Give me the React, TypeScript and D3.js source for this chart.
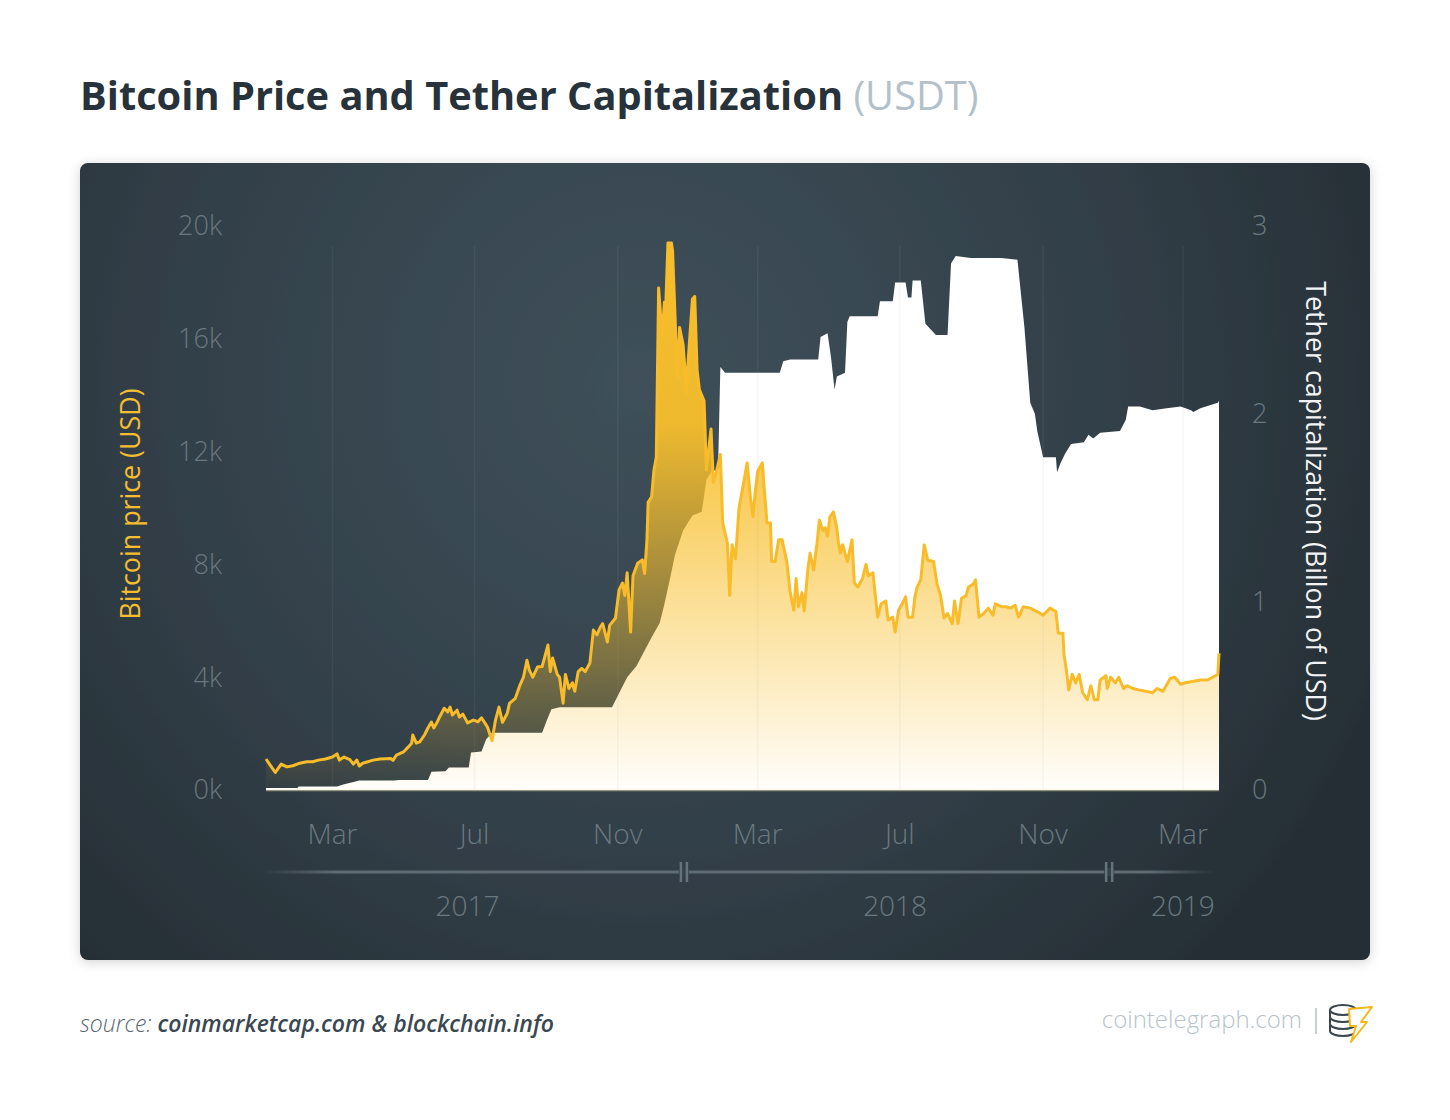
import React from "react";
import * as d3 from "d3";

// bitcoin price, thousands of USD
const btcDates = [
  "2017-01-03", "2017-01-06", "2017-01-11", "2017-01-16", "2017-01-21", "2017-01-26", "2017-02-01", "2017-02-07",
  "2017-02-12", "2017-02-17", "2017-02-23", "2017-03-01", "2017-03-05", "2017-03-07", "2017-03-11", "2017-03-16",
  "2017-03-19", "2017-03-22", "2017-03-24", "2017-03-27", "2017-04-05", "2017-04-11", "2017-04-20", "2017-04-22",
  "2017-04-25", "2017-05-01", "2017-05-05", "2017-05-08", "2017-05-09", "2017-05-12", "2017-05-15", "2017-05-19",
  "2017-05-22", "2017-05-25", "2017-05-27", "2017-05-30", "2017-06-01", "2017-06-05", "2017-06-08", "2017-06-10",
  "2017-06-12", "2017-06-16", "2017-06-18", "2017-06-21", "2017-06-25", "2017-06-30", "2017-07-04", "2017-07-07",
  "2017-07-12", "2017-07-16", "2017-07-19", "2017-07-22", "2017-07-25", "2017-07-29", "2017-07-31", "2017-08-05",
  "2017-08-09", "2017-08-12", "2017-08-15", "2017-08-17", "2017-08-20", "2017-08-24", "2017-08-28", "2017-08-30",
  "2017-09-02", "2017-09-04", "2017-09-06", "2017-09-10", "2017-09-12", "2017-09-15", "2017-09-17", "2017-09-20",
  "2017-09-23", "2017-09-25", "2017-09-28", "2017-10-01", "2017-10-04", "2017-10-08", "2017-10-11", "2017-10-14",
  "2017-10-17", "2017-10-19", "2017-10-23", "2017-10-25", "2017-10-30", "2017-11-02", "2017-11-05", "2017-11-07",
  "2017-11-09", "2017-11-12", "2017-11-14", "2017-11-18", "2017-11-22", "2017-11-24", "2017-11-26", "2017-11-27",
  "2017-11-30", "2017-12-02", "2017-12-04", "2017-12-06", "2017-12-09", "2017-12-11", "2017-12-12", "2017-12-14",
  "2017-12-17", "2017-12-18", "2017-12-20", "2017-12-22", "2017-12-24", "2017-12-27", "2017-12-30", "2017-12-31",
  "2018-01-04", "2018-01-06", "2018-01-08", "2018-01-10", "2018-01-12", "2018-01-14", "2018-01-16", "2018-01-17",
  "2018-01-20", "2018-01-22", "2018-01-25", "2018-01-28", "2018-01-30", "2018-02-03", "2018-02-05", "2018-02-07",
  "2018-02-10", "2018-02-13", "2018-02-17", "2018-02-20", "2018-02-23", "2018-02-25", "2018-02-27", "2018-03-01",
  "2018-03-05", "2018-03-07", "2018-03-09", "2018-03-12", "2018-03-13", "2018-03-16", "2018-03-19", "2018-03-22",
  "2018-03-26", "2018-03-29", "2018-04-01", "2018-04-03", "2018-04-05", "2018-04-08", "2018-04-10", "2018-04-13",
  "2018-04-15", "2018-04-18", "2018-04-21", "2018-04-23", "2018-04-26", "2018-04-28", "2018-04-30", "2018-05-02",
  "2018-05-05", "2018-05-08", "2018-05-09", "2018-05-11", "2018-05-13", "2018-05-17", "2018-05-21", "2018-05-23",
  "2018-05-26", "2018-05-30", "2018-06-02", "2018-06-04", "2018-06-08", "2018-06-10", "2018-06-12", "2018-06-15",
  "2018-06-19", "2018-06-21", "2018-06-25", "2018-06-27", "2018-06-30", "2018-07-03", "2018-07-06", "2018-07-08",
  "2018-07-12", "2018-07-14", "2018-07-16", "2018-07-19", "2018-07-22", "2018-07-25", "2018-07-30", "2018-08-02",
  "2018-08-05", "2018-08-08", "2018-08-11", "2018-08-15", "2018-08-17", "2018-08-20", "2018-08-23", "2018-08-27",
  "2018-08-29", "2018-09-02", "2018-09-04", "2018-09-07", "2018-09-11", "2018-09-15", "2018-09-19", "2018-09-21",
  "2018-09-26", "2018-09-30", "2018-10-04", "2018-10-08", "2018-10-11", "2018-10-15", "2018-10-21", "2018-10-28",
  "2018-11-01", "2018-11-07", "2018-11-12", "2018-11-14", "2018-11-18", "2018-11-19", "2018-11-21", "2018-11-23",
  "2018-11-26", "2018-11-29", "2018-12-02", "2018-12-05", "2018-12-09", "2018-12-12", "2018-12-15", "2018-12-18",
  "2018-12-20", "2018-12-25", "2018-12-26", "2018-12-29", "2019-01-02", "2019-01-05", "2019-01-09", "2019-01-12",
  "2019-01-17", "2019-01-22", "2019-01-28", "2019-02-03", "2019-02-07", "2019-02-12", "2019-02-18", "2019-02-22",
  "2019-02-27", "2019-03-03", "2019-03-09", "2019-03-16", "2019-03-22", "2019-03-29", "2019-03-31", "2019-04-01",
];
const btcPrice = [
  1.1, 0.92, 0.62, 0.92, 0.82, 0.86, 0.95, 1.0,
  1.0, 1.06, 1.1, 1.17, 1.28, 1.06, 1.17, 1.08,
  0.92, 1.06, 0.85, 0.95, 1.06, 1.1, 1.12, 1.05,
  1.24, 1.35, 1.52, 1.66, 1.95, 1.66, 1.71, 1.95,
  2.2, 2.41, 2.2, 2.41, 2.59, 2.9, 2.77, 2.94,
  2.66, 2.83, 2.59, 2.69, 2.38, 2.48, 2.42, 2.56,
  2.24, 1.75, 2.48, 2.94, 2.4, 2.71, 3.07, 3.25,
  3.72, 4.0, 4.6, 4.25, 4.0, 4.36, 4.38, 4.68,
  5.14, 4.2, 4.68, 4.1, 4.0, 3.08, 4.1, 3.6,
  3.8, 3.5, 4.2, 4.31, 4.2, 4.5, 5.67, 5.5,
  5.78, 5.9, 5.25, 5.84, 6.1, 7.09, 7.34, 6.9,
  7.7, 5.6, 7.6, 8.04, 8.16, 7.68, 8.87, 10.2,
  10.4, 11.35, 11.8, 17.8, 16.1, 17.3, 17.0, 19.4,
  19.4, 19.1, 16.9, 14.6, 16.4, 15.8, 14.1, 15.0,
  17.4, 17.5, 14.9, 14.2, 14.0, 13.8, 11.35, 11.7,
  12.8, 10.9, 11.35, 11.9, 9.47, 8.76, 6.9, 8.7,
  8.2, 10.0, 10.9, 11.6, 10.3, 9.7, 10.6, 11.3,
  11.6, 10.5, 9.47, 9.47, 8.1, 8.1, 8.87, 8.87,
  8.1, 7.0, 6.38, 7.5, 6.5, 7.0, 6.35, 7.8,
  8.4, 7.8, 8.76, 9.57, 9.2, 9.3, 9.0, 9.68,
  9.86, 9.3, 8.87, 8.4, 8.7, 8.1, 8.87, 7.34,
  7.2, 7.5, 8.0, 7.6, 7.7, 6.9, 6.13, 6.6,
  6.7, 6.03, 6.13, 5.6, 6.38, 6.6, 6.85, 6.13,
  6.13, 6.85, 7.2, 7.45, 8.69, 8.15, 8.1, 7.3,
  6.9, 6.1, 6.26, 5.9, 6.7, 5.9, 6.8, 6.9,
  7.2, 7.3, 7.45, 6.13, 6.26, 6.45, 6.2, 6.6,
  6.5, 6.5, 6.45, 6.55, 6.13, 6.5, 6.45, 6.3,
  6.2, 6.45, 6.33, 5.56, 5.56, 4.78, 4.25, 3.55,
  4.1, 3.8, 4.1, 3.45, 3.2, 3.7, 3.2, 3.2,
  3.9, 4.05, 3.6, 4.0, 3.8, 4.0, 3.6, 3.7,
  3.6, 3.55, 3.5, 3.45, 3.6, 3.5, 3.95, 4.0,
  3.75, 3.8, 3.85, 3.9, 3.9, 4.05, 4.1, 4.85,
];

// tether capitalization, billions of USD
const tetherDates = [
  "2017-01-03", "2017-01-30", "2017-01-31", "2017-03-05", "2017-03-11", "2017-03-20", "2017-03-24", "2017-04-23",
  "2017-04-27", "2017-05-22", "2017-05-25", "2017-06-06", "2017-06-09", "2017-06-26", "2017-06-28", "2017-07-07",
  "2017-07-11", "2017-07-16", "2017-08-28", "2017-09-01", "2017-09-05", "2017-09-12", "2017-10-27", "2017-10-31",
  "2017-11-09", "2017-11-17", "2017-11-29", "2017-12-07", "2017-12-11", "2017-12-16", "2017-12-20", "2017-12-27",
  "2018-01-04", "2018-01-12", "2018-01-16", "2018-01-21", "2018-01-26", "2018-01-28", "2018-02-01", "2018-03-20",
  "2018-03-23", "2018-03-29", "2018-04-22", "2018-04-24", "2018-04-30", "2018-05-03", "2018-05-06", "2018-05-08",
  "2018-05-15", "2018-05-17", "2018-05-19", "2018-06-12", "2018-06-14", "2018-06-25", "2018-06-27", "2018-07-06",
  "2018-07-08", "2018-07-11", "2018-07-12", "2018-07-19", "2018-07-23", "2018-08-01", "2018-08-11", "2018-08-14",
  "2018-08-18", "2018-08-31", "2018-09-26", "2018-10-10", "2018-10-12", "2018-10-16", "2018-10-19", "2018-10-21",
  "2018-10-25", "2018-10-27", "2018-11-01", "2018-11-12", "2018-11-13", "2018-11-16", "2018-11-20", "2018-11-25",
  "2018-12-06", "2018-12-10", "2018-12-14", "2018-12-20", "2019-01-06", "2019-01-11", "2019-01-13", "2019-01-23",
  "2019-02-03", "2019-02-15", "2019-02-27", "2019-03-08", "2019-03-10", "2019-03-16", "2019-03-31", "2019-04-01",
];
const tetherCap = [
  0.01, 0.01, 0.018, 0.018, 0.03, 0.044, 0.05, 0.05,
  0.053, 0.053, 0.097, 0.1, 0.12, 0.12, 0.2, 0.205,
  0.27, 0.305, 0.305, 0.37, 0.43, 0.44, 0.44, 0.49,
  0.6, 0.66, 0.8, 0.89, 0.99, 1.13, 1.25, 1.38,
  1.46, 1.48, 1.65, 1.7, 1.7, 2.25, 2.22, 2.22,
  2.28, 2.29, 2.29, 2.41, 2.43, 2.3, 2.13, 2.2,
  2.22, 2.49, 2.52, 2.52, 2.6, 2.6, 2.7, 2.7,
  2.62, 2.62, 2.71, 2.71, 2.48, 2.42, 2.42, 2.8,
  2.84, 2.83, 2.83, 2.82, 2.7, 2.46, 2.22, 2.06,
  2.0, 1.91, 1.77, 1.77, 1.69, 1.74, 1.79, 1.84,
  1.85, 1.89, 1.87, 1.9, 1.91, 1.97, 2.04, 2.04,
  2.02, 2.03, 2.04, 2.02, 2.01, 2.03, 2.06, 2.07,
];

const priceTicks = [0, 4, 8, 12, 16, 20];
const capTicks = [0, 1, 2, 3];
const yearLabels = ["2017", "2018", "2019"];
const yearLabelDates = ["2017-06-25", "2018-06-27", "2019-03-01"];
const yearBreaks = ["2018-01-01", "2019-01-01"];

const FONT = "'Open Sans', 'Noto Sans', sans-serif";
const parse = d3.timeParse("%Y-%m-%d");

const x = d3
  .scaleTime()
  .domain([parse("2017-01-03"), parse("2019-04-01")])
  .range([266, 1219]);
const yPrice = d3.scaleLinear().domain([0, 20]).range([790, 226]);
const yCap = d3.scaleLinear().domain([0, 3]).range([790, 226]);

const btc = btcDates.map((d, i) => ({ date: parse(d), v: btcPrice[i] }));
const tether = tetherDates.map((d, i) => ({ date: parse(d), v: tetherCap[i] }));

const btcArea = d3
  .area()
  .x((d) => x(d.date))
  .y0(yPrice(0))
  .y1((d) => yPrice(d.v));
const btcLine = d3
  .line()
  .x((d) => x(d.date))
  .y((d) => yPrice(d.v));
const tetherArea = d3
  .area()
  .x((d) => x(d.date))
  .y0(yCap(0))
  .y1((d) => yCap(d.v));

const monthTicks = d3.timeMonth
  .range(x.domain()[0], x.domain()[1])
  .filter((m) => m.getMonth() % 4 === 2);
const fmtMonth = d3.timeFormat("%b");

const App = () => {
  const [x0, x1] = x.range();
  const tickColor = "#6a7880";

  return (
    <div style={{ position: "absolute", left: 0, top: 0 }}>
      <svg width={1450} height={1120} style={{ display: "block", background: "#fff" }}>
        <defs>
          <radialGradient id="panelBg" gradientUnits="userSpaceOnUse" cx={640} cy={380} r={820}>
            <stop offset="0" stopColor="#3f505a" />
            <stop offset="0.5" stopColor="#34424b" />
            <stop offset="1" stopColor="#252e34" />
          </radialGradient>
          <linearGradient id="btcFill" gradientUnits="userSpaceOnUse" x1={0} y1={yPrice(20)} x2={0} y2={yPrice(0)}>
            <stop offset="0" stopColor="#f8bf2c" stopOpacity={1} />
            <stop offset="0.35" stopColor="#f8bf2c" stopOpacity={0.95} />
            <stop offset="1" stopColor="#f8bf2c" stopOpacity={0.02} />
          </linearGradient>
          <linearGradient id="yearLine" gradientUnits="userSpaceOnUse" x1={262} y1={0} x2={1215} y2={0}>
            <stop offset="0" stopColor="#5f6c73" stopOpacity={0} />
            <stop offset="0.08" stopColor="#5f6c73" stopOpacity={1} />
            <stop offset="0.93" stopColor="#5f6c73" stopOpacity={1} />
            <stop offset="1" stopColor="#5f6c73" stopOpacity={0} />
          </linearGradient>
          <filter id="shadow" x="-5%" y="-5%" width="110%" height="110%">
            <feDropShadow dx="0" dy="2" stdDeviation="6" floodColor="#000" floodOpacity="0.18" />
          </filter>
        </defs>

        {/* title */}
        <text x={80} y={110} fontFamily={FONT} fontSize={39.8} fontWeight={700} fill="#27323a">
          Bitcoin Price and Tether Capitalization
          <tspan fontWeight={400} fill="#b4c1c9"> (USDT)</tspan>
        </text>

        {/* panel */}
        <rect x={80} y={163} width={1290} height={797} rx={8} fill="url(#panelBg)" filter="url(#shadow)" />

        {/* areas */}
        <path d={tetherArea(tether)} fill="#ffffff" />
        <path d={btcArea(btc)} fill="url(#btcFill)" />
        <path d={btcLine(btc)} fill="none" stroke="#f8bc2a" strokeWidth={3} strokeLinejoin="round" />
        <line x1={x0} x2={x1} y1={yPrice(0) + 0.5} y2={yPrice(0) + 0.5} stroke="#d8cfa6" strokeOpacity={0.6} strokeWidth={1.5} />

        {/* vertical grid */}
        {monthTicks.map((m) => (
          <line
            key={+m}
            x1={x(m)}
            x2={x(m)}
            y1={yPrice(20) + 20}
            y2={yPrice(0)}
            stroke="#9aa5ab"
            strokeOpacity={0.1}
            strokeWidth={1.5}
          />
        ))}

        {/* left axis */}
        {priceTicks.map((t) => (
          <text
            key={t}
            x={222}
            y={yPrice(t)}
            dy="0.35em"
            textAnchor="end"
            fontFamily={FONT}
            fontSize={27}
            fontWeight={300}
            fill={tickColor}
          >
            {t}k
          </text>
        ))}
        <text
          transform="translate(140,504) rotate(-90)"
          textAnchor="middle"
          fontFamily={FONT}
          fontSize={26.8}
          fontWeight={400}
          fill="#f5bd2f"
        >
          Bitcoin price (USD)
        </text>

        {/* right axis */}
        {capTicks.map((t) => (
          <text
            key={t}
            x={1252}
            y={yCap(t)}
            dy="0.35em"
            textAnchor="start"
            fontFamily={FONT}
            fontSize={27}
            fontWeight={300}
            fill={tickColor}
          >
            {t}
          </text>
        ))}
        <text
          transform="translate(1306,501) rotate(90)"
          textAnchor="middle"
          fontFamily={FONT}
          fontSize={26.8}
          fontWeight={400}
          fill="#f1f3f4"
        >
          Tether capitalization (Billon of USD)
        </text>

        {/* month labels */}
        {monthTicks.map((m) => (
          <text
            key={+m}
            x={x(m)}
            y={834}
            dy="0.35em"
            textAnchor="middle"
            fontFamily={FONT}
            fontSize={28}
            fontWeight={300}
            fill={tickColor}
          >
            {fmtMonth(m)}
          </text>
        ))}

        {/* year line */}
        <line x1={262} x2={1215} y1={872} y2={872} stroke="url(#yearLine)" strokeWidth={3} />
        {yearBreaks.map((b) => {
          const bx = x(parse(b)) - 5;
          return (
            <g key={b}>
              <rect x={bx - 5} y={868} width={10} height={8} fill="#34424b" />
              <line x1={bx - 3} x2={bx - 3} y1={862} y2={882} stroke="#66737a" strokeWidth={2.5} />
              <line x1={bx + 3} x2={bx + 3} y1={862} y2={882} stroke="#66737a" strokeWidth={2.5} />
            </g>
          );
        })}
        {yearLabels.map((yl, i) => (
          <text
            key={yl}
            x={x(parse(yearLabelDates[i]))}
            y={906}
            dy="0.35em"
            textAnchor="middle"
            fontFamily={FONT}
            fontSize={28}
            fontWeight={300}
            fill={tickColor}
          >
            {yl}
          </text>
        ))}

        {/* footer */}
        <text x={80} y={1032} fontFamily={FONT} fontSize={23} fontStyle="italic">
          <tspan fontWeight={300} fill="#5b6871">source: </tspan>
          <tspan fontWeight={600} fill="#3a4852">coinmarketcap.com &amp; blockchain.info</tspan>
        </text>
        <text x={1302} y={1028} textAnchor="end" fontFamily={FONT} fontSize={24} fontWeight={300} fill="#b8c3ca">
          cointelegraph.com
        </text>
        <line x1={1316} x2={1316} y1={1008} y2={1034} stroke="#b8c3ca" strokeWidth={1.5} />
        <g fill="none" stroke="#3a4650" strokeWidth={2}>
          <ellipse cx={1343} cy={1010} rx={13} ry={5} />
          <path d="M1330,1010 v21 a13,5 0 0 0 26,0" />
          <path d="M1330,1017 a13,5 0 0 0 26,0" />
          <path d="M1330,1024 a13,5 0 0 0 26,0" />
        </g>
        <path
          d="M1349,1009 L1372,1007 L1361,1022 L1367,1022 L1351,1042 L1356,1026 L1350,1026 Z"
          fill="#ffffff"
          stroke="#f5b81c"
          strokeWidth={2}
          strokeLinejoin="round"
        />
      </svg>
    </div>
  );
};

export default App;
